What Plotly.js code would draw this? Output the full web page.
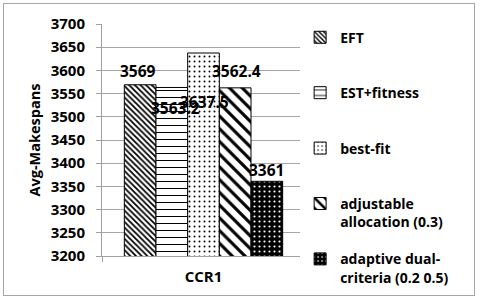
<!DOCTYPE html>
<html><head><meta charset="utf-8">
<script src="https://cdn.plot.ly/plotly-3.0.1.min.js"></script>
<style>body{margin:0;padding:0;background:#fff}#wrap{position:relative;width:480px;height:298px}#chart{width:480px;height:298px}#frame{position:absolute;left:3px;top:3px;width:470px;height:291px;border:1px solid #a6a6a6;pointer-events:none}</style>
</head><body><div id="wrap"><div id="chart"></div><div id="frame"></div></div>
<script>
const categories = ["CCR1"];
const seriesNames = ["EFT<br>&nbsp;", "EST+fitness<br>&nbsp;", "best-fit<br>&nbsp;", "adjustable<br>allocation (0.3)", "adaptive dual-<br>criteria (0.2 0.5)"];
const seriesValues = [3569, 3563.2, 3637.5, 3562.4, 3361];
const valueLabels = ["3569", "3563.2", "3637.5", "3562.4", "3361"];

const patterns = [
  {shape: "\\", size: 4, solidity: 0.45, fgcolor: "#000", bgcolor: "#fff"},
  {shape: "-", size: 7, solidity: 0.15, fgcolor: "#000", bgcolor: "#fff"},
  {shape: ".", size: 5, solidity: 0.12, fgcolor: "#000", bgcolor: "#fff"},
  {shape: "\\", size: 9, solidity: 0.35, fgcolor: "#000", bgcolor: "#fff"},
  {shape: ".", size: 5, solidity: 0.15, fgcolor: "#fff", bgcolor: "#000"}
];
const labelShiftY = [14, -21, -49, 17, 11];
const labelShiftX = [-2, 4, 1, 1, 0];

const M = {l: 102, r: 175, t: 24, b: 42};
const plotW = 480 - M.l - M.r;
const bargap = 0.22;
const barW = plotW * (1 - bargap) / seriesValues.length;

const font = "'Open Sans', 'Liberation Sans', sans-serif";

const traces = seriesValues.map((v, i) => ({
  type: "bar",
  name: seriesNames[i],
  x: categories,
  y: [v],
  legendgroup: "g" + i,
  marker: {
    color: patterns[i].bgcolor,
    line: {color: "#000", width: 1},
    pattern: Object.assign({fillmode: "replace"}, patterns[i])
  },
  hoverinfo: "none"
}));

const annotations = seriesValues.map((v, i) => ({
  x: categories[0], y: v, xref: "x", yref: "y",
  text: valueLabels[i], showarrow: false,
  xshift: (i - (seriesValues.length - 1) / 2) * barW + labelShiftX[i],
  yshift: labelShiftY[i],
  yanchor: "middle", xanchor: "center",
  font: {family: font, size: 15.5, color: "#000", weight: "bold"}
}));

const layout = {
  width: 480, height: 298,
  margin: M,
  paper_bgcolor: "#fff", plot_bgcolor: "#fff",
  barmode: "group", bargap: bargap, bargroupgap: 0,
  font: {family: font, size: 14, color: "#000", weight: "bold"},
  showlegend: true,
  legend: {
    x: 0.976, xanchor: "left", y: 1.01, yanchor: "top",
    traceorder: "grouped", tracegroupgap: 16, valign: "top",
    itemwidth: 30, maxheight: 1,
    font: {family: font, size: 14, color: "#000", weight: "bold"}
  },
  xaxis: {
    type: "category",
    showline: true, linecolor: "#a0a0a0", linewidth: 1,
    ticks: "outside", tickson: "boundaries", ticklen: 5, tickcolor: "#a0a0a0",
    ticklabelstandoff: 7,
    tickfont: {family: font, size: 15, weight: "bold"},
    showgrid: false
  },
  yaxis: {
    range: [3200, 3700], dtick: 50,
    showline: true, linecolor: "#a0a0a0", linewidth: 1,
    ticks: "outside", ticklen: 5, tickcolor: "#a0a0a0",
    ticklabelstandoff: 8,
    showgrid: true, gridcolor: "#a6a6a6", gridwidth: 1,
    zeroline: false,
    tickfont: {family: font, size: 15, weight: "bold"},
    title: {text: "Avg-Makespans", standoff: 6, font: {family: font, size: 14.5, weight: "bold"}}
  },
  annotations: annotations
};

Plotly.newPlot("chart", traces, layout, {displayModeBar: false, staticPlot: true});
</script></body></html>
